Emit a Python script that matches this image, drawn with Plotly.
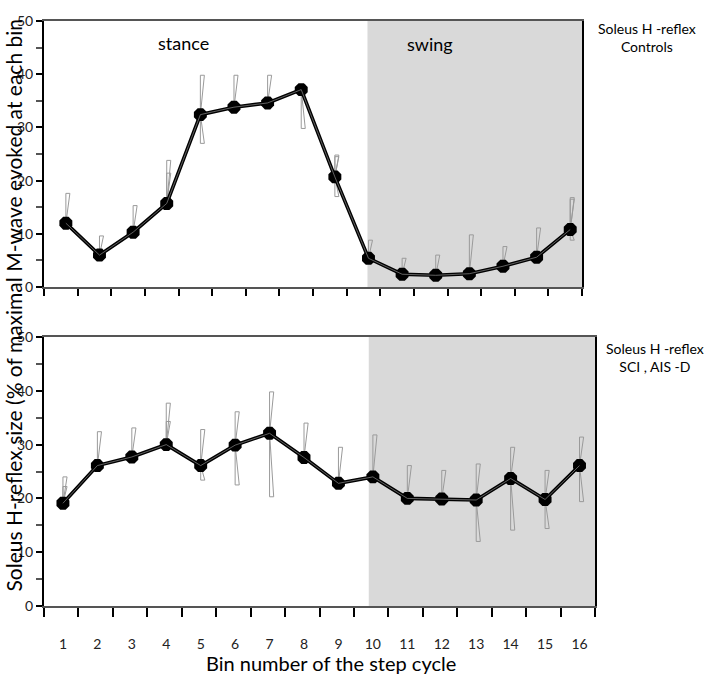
import numpy as np
import plotly.graph_objects as go

# bins of the step cycle
bins = list(range(1, 17))
bin_labels = [str(b) for b in bins]

# Controls (top panel)
ctrl_mean = [12.0, 6.0, 10.3, 15.7, 32.4, 33.8, 34.6, 37.1, 20.7, 5.4, 2.4, 2.2, 2.5, 3.9, 5.6, 10.8]
ctrl_up = [17.6, 9.6, 15.3, 23.8, 39.8, 39.8, 39.8, np.nan, 24.8, 8.8, 5.4, 6.0, 9.8, 7.6, 11.1, 16.8]
ctrl_up2 = [np.nan, np.nan, np.nan, 21.4, np.nan, np.nan, np.nan, 38.0, 24.5, np.nan, np.nan, np.nan, np.nan, np.nan, np.nan, 16.5]
ctrl_down = [np.nan, np.nan, np.nan, np.nan, 27.0, np.nan, np.nan, 29.8, 17.0, np.nan, np.nan, np.nan, np.nan, np.nan, np.nan, 8.8]

# SCI, AIS-D (bottom panel)
sci_mean = [19.1, 26.1, 27.7, 30.0, 26.1, 29.9, 32.1, 27.6, 22.8, 24.0, 20.0, 19.9, 19.7, 23.7, 19.8, 26.1]
sci_up = [24.0, 32.4, 33.1, 37.7, 32.8, 36.1, 39.8, 34.0, 29.5, 31.8, 26.1, 25.2, 26.4, 29.5, 25.2, 31.4]
sci_up2 = [22.2, np.nan, np.nan, 34.3, np.nan, np.nan, np.nan, np.nan, np.nan, np.nan, np.nan, np.nan, np.nan, np.nan, np.nan, np.nan]
sci_down = [np.nan, np.nan, np.nan, np.nan, 23.4, 22.5, 20.3, np.nan, np.nan, np.nan, np.nan, np.nan, 12.0, 14.1, 14.4, 19.4]

W, H = 709, 676
FONT = "Lato"


def v_marks(x, mean, ends, w=0.12):
    # thin wedge-like error marks, as in the original figure
    xs, ys = [], []
    for xi, m, e in zip(x, mean, ends):
        if np.isnan(e):
            continue
        xs += [xi, xi, xi + w, xi, None]
        ys += [m, e, e, m, None]
    return xs, ys


fig = go.Figure()

for mean, ends_list, xa, ya in [
    (ctrl_mean, [ctrl_up, ctrl_up2, ctrl_down], "x", "y"),
    (sci_mean, [sci_up, sci_up2, sci_down], "x2", "y2"),
]:
    for ends in ends_list:
        ex, ey = v_marks(bins, mean, ends)
        fig.add_trace(go.Scatter(x=ex, y=ey, mode="lines", xaxis=xa, yaxis=ya,
                                 line=dict(color="#9a9a9a", width=1), showlegend=False,
                                 hoverinfo="skip"))
    fig.add_trace(go.Scatter(x=bins, y=mean, mode="lines+markers", xaxis=xa, yaxis=ya,
                             line=dict(color="black", width=3.6),
                             marker=dict(symbol="octagon", size=14, color="black"),
                             showlegend=False))
    fig.add_trace(go.Scatter(x=bins, y=mean, mode="lines", xaxis=xa, yaxis=ya,
                             line=dict(color="#8a8a8a", width=0.7),
                             showlegend=False, hoverinfo="skip"))

top_dom = [1 - 287 / H, 1 - 21 / H]
bot_dom = [1 - 606 / H, 1 - 337 / H]

yax = dict(range=[0, 50], tickvals=[0, 10, 20, 30, 40, 50], ticks="outside", ticklen=6,
           tickwidth=2, tickcolor="black", showline=True, linewidth=2, linecolor="black",
           mirror=True, showgrid=False, zeroline=False, automargin=False,
           minor=dict(tickvals=[5, 15, 25, 35, 45], ticks="outside", ticklen=6,
                      tickwidth=2, tickcolor="#555"),
           tickfont=dict(family=FONT, size=14, color="#222"))

fig.update_layout(
    width=W, height=H,
    margin=dict(l=0, r=0, t=0, b=0),
    paper_bgcolor="white", plot_bgcolor="white",
    font=dict(family=FONT, color="black"),
    xaxis=dict(domain=[44 / W, 582 / W], range=[0.35, 16.35], anchor="y",
               showticklabels=False, ticks="", showline=True, linewidth=2,
               linecolor="#555", mirror=True, showgrid=False, zeroline=False,
               automargin=False,
               minor=dict(tickvals=[b + 0.35 for b in range(17)], ticks="outside",
                          ticklen=7, tickwidth=2, tickcolor="black")),
    xaxis2=dict(domain=[44 / W, 595 / W], range=[0.45, 16.45], anchor="y2",
                tickvals=bins, ticktext=bin_labels, ticks="", ticklabelstandoff=24,
                tickfont=dict(family=FONT, size=14, color="#222"),
                showline=True, linewidth=2, linecolor="#555", mirror=True,
                showgrid=False, zeroline=False, automargin=False,
                minor=dict(tickvals=[b + 0.45 for b in range(17)], ticks="outside",
                           ticklen=9, tickwidth=2, tickcolor="black")),
    yaxis=dict(domain=top_dom, anchor="x", **yax),
    yaxis2=dict(domain=bot_dom, anchor="x2", **yax),
)

# swing phase shading
fig.add_shape(type="rect", xref="x", yref="y", x0=9.97, x1=16.35, y0=0, y1=50,
              fillcolor="#d9d9d9", line=dict(width=0), layer="below")
fig.add_shape(type="rect", xref="x2", yref="y2", x0=9.88, x1=16.45, y0=0, y1=50,
              fillcolor="#d9d9d9", line=dict(width=0), layer="below")

ann = [
    dict(x=183 / W, y=1 - 43 / H, text="stance", size=18),
    dict(x=430 / W, y=1 - 44 / H, text="swing", size=18),
    dict(x=647 / W, y=1 - 37 / H, text="Soleus H -reflex<br>Controls", size=14),
    dict(x=655 / W, y=1 - 357 / H, text="Soleus H -reflex<br>SCI , AIS -D", size=14),
    dict(x=331 / W, y=1 - 663 / H, text="Bin number of the step cycle", size=20),
]
for a in ann:
    fig.add_annotation(x=a["x"], y=a["y"], xref="paper", yref="paper", text=a["text"],
                       showarrow=False, xanchor="center", yanchor="middle",
                       font=dict(family=FONT, size=a["size"], color="black"))

fig.add_annotation(x=13 / W, y=1 - 594 / H, xref="paper", yref="paper",
                   text="Soleus H-reflex size (% of maximal M-wave evoked at each bin",
                   textangle=-90, showarrow=False, xanchor="center", yanchor="bottom",
                   font=dict(family=FONT, size=21, color="black"))

# the page has a default body margin; drop it so the figure fills the window
fig.write_html("out.html", config={"displayModeBar": False},
               post_script="document.body.style.margin='0';")
